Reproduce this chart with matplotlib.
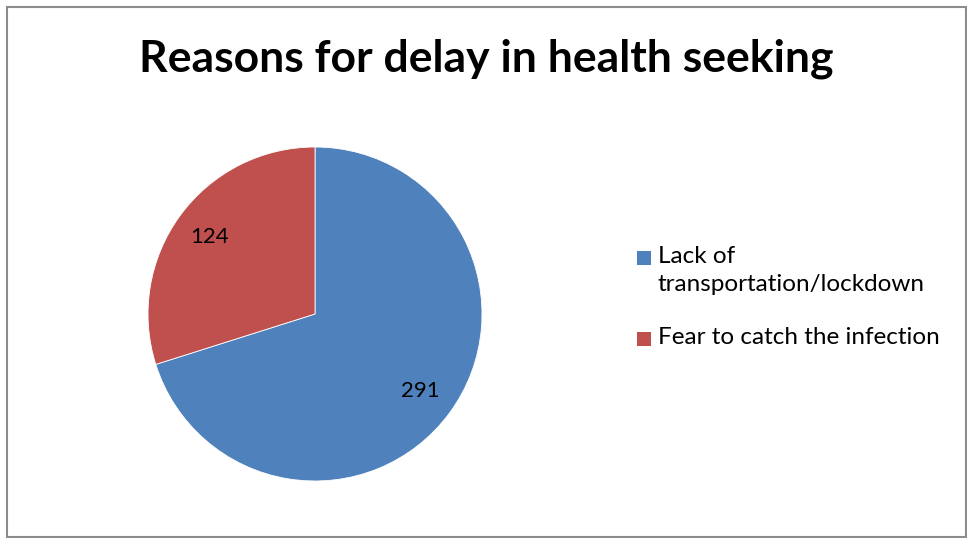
import matplotlib
matplotlib.use("Agg")
import matplotlib.pyplot as plt
from matplotlib.patches import Rectangle

plt.rcParams['font.family'] = ['Lato', 'DejaVu Sans']

categories = ["Lack of\ntransportation/lockdown", "Fear to catch the infection"]
values = [291, 124]
colors = ["#4F81BD", "#C0504D"]
title = "Reasons for delay in health seeking"

W, H = 967, 538
fig = plt.figure(figsize=(W / 100, H / 100), dpi=100)

# outer frame
fig.patches.append(Rectangle((7 / W, 1.5 / H), (965.5 - 7) / W, (531.5 - 1.5) / H,
                             transform=fig.transFigure, fill=False,
                             edgecolor="#8c8c8c", linewidth=1.5))

cx, cy, r = 315, 314, 167
ax = fig.add_axes([(cx - r) / W, (H - cy - r) / H, 2 * r / W, 2 * r / H])
total = sum(values)
wedges, texts, autotexts = ax.pie(
    values, colors=colors, startangle=90, counterclock=False,
    autopct=lambda p: f"{round(p * total / 100)}", pctdistance=0.78,
    wedgeprops=dict(linewidth=0.6, edgecolor="white"),
    textprops=dict(fontsize=16, color="black"))
ax.set_xlim(-1, 1)
ax.set_ylim(-1, 1)

fig.text(486 / W, 1 - 59 / H, title, ha="center", va="center",
         fontsize=32, fontweight="bold")

# legend (manual layout)
sq = 14
leg_rows = [258, 339]
for w, lab, yc in zip(wedges, categories, leg_rows):
    fig.patches.append(Rectangle((637 / W, (H - yc - sq / 2) / H), sq / W, sq / H,
                                 transform=fig.transFigure,
                                 facecolor=w.get_facecolor(), edgecolor="none"))
    fig.text(658 / W, 1 - (yc - 12) / H, lab, ha="left", va="top",
             fontsize=17.5, linespacing=1.4)

fig.savefig("out.png", dpi=100)
